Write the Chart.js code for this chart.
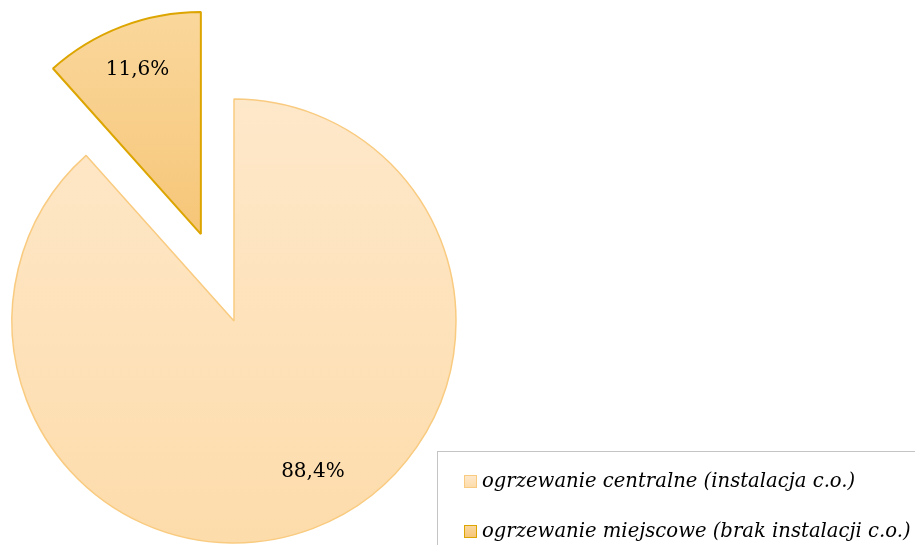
<!DOCTYPE html>
<html>
<head>
<meta charset="utf-8">
<script src="https://cdn.jsdelivr.net/npm/chart.js@4"></script>
<style>
  html, body { margin: 0; padding: 0; background: #fff; }
  #wrap { position: relative; width: 915px; height: 545px; overflow: hidden; }
  #pieChart { position: absolute; left: 0; top: 0; }
  #legend {
    position: absolute; left: 437px; top: 451px; width: 520px; height: 110px;
    border: 1px solid #c4c4c4; box-sizing: border-box;
    font-family: "DejaVu Serif", serif; font-style: italic; font-size: 19.6px; color: #000;
  }
  .item { position: absolute; left: 26px; white-space: nowrap; line-height: 24px; }
  .box { display: inline-block; width: 13px; height: 13px; margin-right: 5px; vertical-align: -1px; box-sizing: border-box; }
</style>
</head>
<body>
<div id="wrap">
  <canvas id="pieChart" width="915" height="545"></canvas>
  <div id="legend"></div>
</div>
<script>
// Heating type shares (%)
const labels = ['ogrzewanie centralne (instalacja c.o.)', 'ogrzewanie miejscowe (brak instalacji c.o.)'];
const shares = [88.4, 11.6];

// styles
const topColors = ['#fee8ca', '#fad79c'];
const bottomColors = ['#fddcab', '#f6c678'];
const borderColors = ['#f9cb80', '#dca500'];
const borderWidths = [1.5, 2];
const explode = [0, 93];          // px the slice is pulled out
const labelAngleFrac = [0.478, 0.5];
const labelRadiusFrac = [0.76, 0.80];
const pieRadius = 222;

const canvas = document.getElementById('pieChart');
const ctx = canvas.getContext('2d');

function sliceGradient(i) {
    // vertical gradient covering the slice height
    const cy = 321;
    let y0 = cy - pieRadius + 2, y1 = cy + pieRadius;
    if (i === 1) { y0 = cy - pieRadius - 87; y1 = cy - 87; }
    const g = ctx.createLinearGradient(0, y0, 0, y1);
    g.addColorStop(0, topColors[i]);
    g.addColorStop(1, bottomColors[i]);
    return g;
}

// pull slices out without growing them
const explodePlugin = {
    id: 'explode',
    afterDatasetsUpdate(chart) {
        const meta = chart.getDatasetMeta(0);
        meta.data.forEach((arc, i) => {
            const d = explode[i];
            if (!d) return;
            const mid = (arc.startAngle + arc.endAngle) / 2;
            arc.x += Math.cos(mid) * d;
            arc.y += Math.sin(mid) * d;
        });
    }
};

// percentage labels inside slices
const valueLabels = {
    id: 'valueLabels',
    afterDatasetsDraw(chart) {
        const meta = chart.getDatasetMeta(0);
        const c = chart.ctx;
        c.save();
        c.font = '20px "DejaVu Serif", serif';
        c.fillStyle = '#000';
        c.textAlign = 'center';
        c.textBaseline = 'middle';
        meta.data.forEach((arc, i) => {
            const a = arc.startAngle + (arc.endAngle - arc.startAngle) * labelAngleFrac[i];
            const r = arc.outerRadius * labelRadiusFrac[i];
            const txt = shares[i].toFixed(1).replace('.', ',') + '%';
            c.fillText(txt, arc.x + Math.cos(a) * r, arc.y + Math.sin(a) * r + 2);
        });
        c.restore();
    }
};

const chart = new Chart(ctx, {
    type: 'pie',
    data: {
        labels: labels,
        datasets: [{
            data: shares,
            backgroundColor: shares.map((v, i) => sliceGradient(i)),
            borderColor: borderColors,
            borderWidth: borderWidths,
            clip: false
        }]
    },
    options: {
        responsive: false,
        animation: false,
        radius: pieRadius,
        layout: { padding: { left: 0, right: 447, top: 97, bottom: 0 } },
        plugins: {
            legend: { display: false },
            tooltip: { enabled: false }
        }
    },
    plugins: [explodePlugin, valueLabels]
});

// legend
const legend = document.getElementById('legend');
labels.forEach((lab, i) => {
    const item = document.createElement('div');
    item.className = 'item';
    item.style.top = (i === 0 ? 17 : 67) + 'px';
    const box = document.createElement('span');
    box.className = 'box';
    box.style.background = 'linear-gradient(' + topColors[i] + ',' + bottomColors[i] + ')';
    box.style.border = '1px solid ' + borderColors[i];
    item.appendChild(box);
    item.appendChild(document.createTextNode(lab));
    legend.appendChild(item);
});
</script>
</body>
</html>
